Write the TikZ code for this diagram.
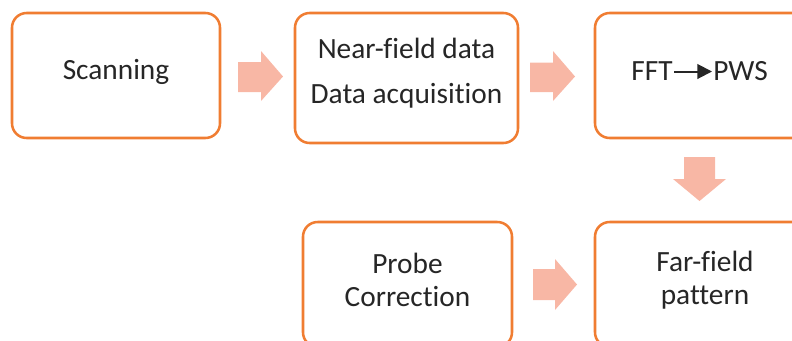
\documentclass[tikz,border=0pt]{standalone}
\usepackage{fontspec}
\setmainfont[Ligatures=NoCommon]{Carlito}
\usepackage{xcolor}
\usetikzlibrary{arrows.meta}

\definecolor{boxorange}{RGB}{240,125,50}
\definecolor{arrowsalmon}{RGB}{248,183,165}
\definecolor{textgray}{RGB}{38,38,38}

\tikzset{
  stepbox/.style={draw=boxorange, line width=1.9pt, rounded corners=11pt, fill=white, inner sep=0pt},
  txt/.style={text=textgray, inner sep=0.75pt, align=center, font=\fontsize{22}{24.75}\selectfont},
  blockarrow/.style={fill=arrowsalmon, draw=none},
}

\begin{document}
\begin{tikzpicture}[x=0.75pt,y=0.75pt,yscale=-1,xscale=1]
\useasboundingbox (0,0) rectangle (792,340);
\clip (0,0) rectangle (792,340);

%Rounded Rect
\node [stepbox, minimum width=208*0.75pt, minimum height=125*0.75pt] (scan) at (116,75.5) {};
%Rounded Rect
\node [stepbox, minimum width=223*0.75pt, minimum height=130*0.75pt] (near) at (406.5,78) {};
%Rounded Rect
\node [stepbox, minimum width=220*0.75pt, minimum height=125*0.75pt] (fft) at (705,75.5) {};
%Rounded Rect
\node [stepbox, minimum width=209*0.75pt, minimum height=125*0.75pt] (probe) at (407.5,284.5) {};
%Rounded Rect
\node [stepbox, minimum width=220*0.75pt, minimum height=125*0.75pt] (far) at (705,284.5) {};

%Right Arrow
\fill [blockarrow] (238,62) -- (261,62) -- (261,51) -- (283,76.5) -- (261,101) -- (261,92) -- (238,92) -- cycle ;
%Right Arrow
\fill [blockarrow] (530,62.5) -- (553,62.5) -- (553,51) -- (575,76.5) -- (553,101) -- (553,92) -- (530,92) -- cycle ;
%Down Arrow
\fill [blockarrow] (684,157) -- (715,157) -- (715,179) -- (726,179) -- (699.5,201) -- (673,179) -- (684,179) -- cycle ;
%Right Arrow
\fill [blockarrow] (533,269) -- (555,269) -- (555,259) -- (577,284.5) -- (555,310) -- (555,300) -- (533,300) -- cycle ;

% Text Node
\node [txt] (scantxt) at (116,71.5) {Scanning};
% Text Node
\node [txt, font=\fontsize{22}{33.75}\selectfont] (neartxt) at (406.5,73.5) {Near-field data\\Data acquisition};
% Text Node
\node [txt, anchor=east] (ffttxt) at (674,71.5) {FFT};
% Text Node
\node [txt, anchor=west] (pwstxt) at (712,71.5) {PWS};
\draw [textgray, line width=1.5pt, -{Triangle[length=11pt,width=11pt]}] (ffttxt.east) -- (pwstxt.west) ;
% Text Node
\node [txt] (probetxt) at (407.5,279.5) {Probe\\Correction};
% Text Node
\node [txt] (fartxt) at (705,280) {Far-field\\pattern};

\end{tikzpicture}
\end{document}
